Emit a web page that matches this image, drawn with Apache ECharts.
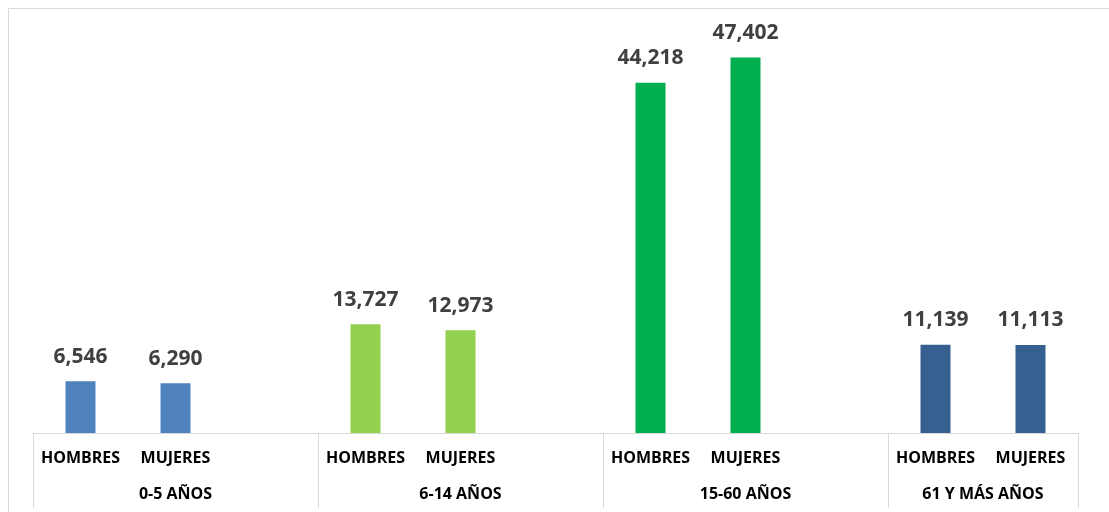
<!DOCTYPE html>
<html>
<head>
<meta charset="utf-8">
<script src="https://cdn.jsdelivr.net/npm/echarts@6/dist/echarts.min.js"></script>
<style>
  html, body { margin: 0; padding: 0; background: #fff; }
  #main { width: 1109px; height: 512px; }
</style>
</head>
<body>
<div id="main"></div>
<script>
// datos de la grafica
var groups = ['0-5 AÑOS', '6-14 AÑOS', '15-60 AÑOS', '61 Y MÁS AÑOS'];
var subLabels = ['HOMBRES', 'MUJERES'];
var hombres = [6546, 13727, 44218, 11139];
var mujeres = [6290, 12973, 47402, 11113];
var groupColors = ['#4f81bd', '#92d050', '#00b050', '#36608f'];

// 11 slots: H, M, hueco, H, M, hueco, ...
var cats = [];
var values = [];
var groupStart = [];
groups.forEach(function (g, i) {
    groupStart.push(cats.length);
    cats.push(subLabels[0]);
    values.push({ value: hombres[i], itemStyle: { color: groupColors[i] } });
    cats.push(subLabels[1]);
    values.push({ value: mujeres[i], itemStyle: { color: groupColors[i] } });
    if (i < groups.length - 1) {
        cats.push('');
        values.push('-');
    }
});
var nSlots = cats.length;

// eje de grupos: medios puntos sobre 0..nSlots
var groupAxis = [];
for (var j = 0; j <= nSlots * 2; j++) groupAxis.push('');
groups.forEach(function (g, i) {
    var end = (i < groups.length - 1) ? groupStart[i + 1] : nSlots;
    var mid = groupStart[i] + end;  // (start+end)/2 en medios
    groupAxis[mid] = g;
});

var myChart = echarts.init(document.getElementById('main'));
var option = {
    animation: false,
    textStyle: { fontFamily: 'Open Sans' },
    graphic: [{
        type: 'rect',
        shape: { x: 8.5, y: 8.5, width: 1130, height: 530 },
        style: { fill: 'none', stroke: '#d9d9d9', lineWidth: 1 },
        silent: true
    }],
    grid: { left: 33, right: 31, top: 37, bottom: 79 },
    xAxis: [{
        type: 'category',
        data: cats,
        axisLine: { lineStyle: { color: '#d9d9d9', width: 1 } },
        axisTick: {
            show: true,
            length: 75,
            lineStyle: { color: '#d9d9d9' },
            interval: function (index) { return groupStart.indexOf(index) >= 0; }
        },
        axisLabel: {
            interval: 0,
            margin: 17,
            color: '#000',
            fontWeight: 'bold',
            fontSize: 16
        }
    }, {
        type: 'category',
        data: groupAxis,
        boundaryGap: false,
        position: 'bottom',
        axisLine: { show: false },
        axisTick: { show: false },
        axisLabel: {
            interval: 0,
            margin: 53,
            color: '#000',
            fontWeight: 'bold',
            fontSize: 16
        }
    }],
    yAxis: {
        type: 'value',
        min: 0,
        max: 50000,
        show: false,
        splitLine: { show: false }
    },
    series: [{
        type: 'bar',
        data: values,
        barWidth: 30,
        label: {
            show: true,
            position: 'top',
            distance: 14,
            color: '#404040',
            fontWeight: 'bold',
            fontSize: 21,
            formatter: function (p) { return p.value.toLocaleString('en-US'); }
        }
    }]
};
myChart.setOption(option);
</script>
</body>
</html>
